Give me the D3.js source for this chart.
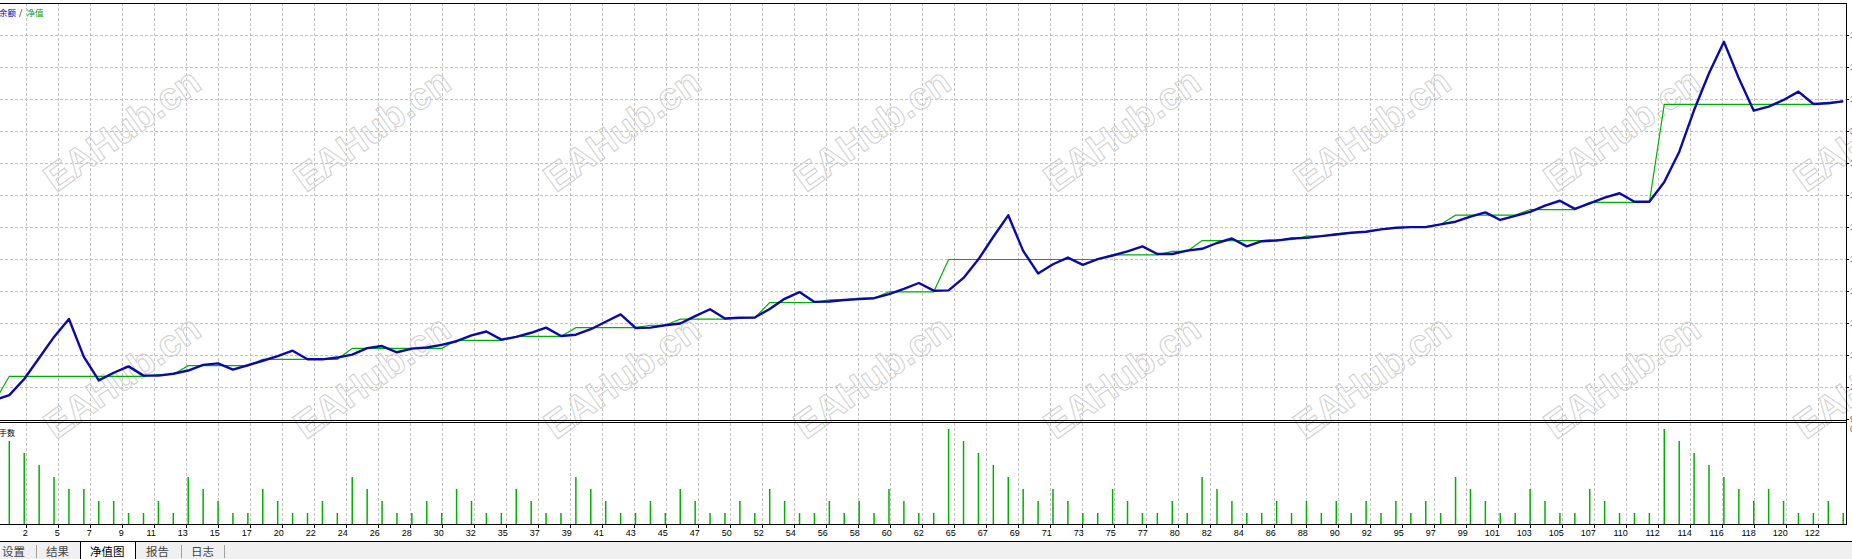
<!DOCTYPE html>
<html>
<head>
<meta charset="utf-8">
<script src="https://cdn.jsdelivr.net/npm/d3@7"></script>
<style>
  body { margin: 0; background: #fff; overflow: hidden; }
</style>
</head>
<body>
<svg id="chart"></svg>
<script>
/* data: point 0 = start, then one point per trade */
const balance = [
  9919, 9949, 10050, 10181, 10313, 10425, 10188, 10041, 10089, 10129,
  10071, 10071, 10083, 10103, 10138, 10148, 10109, 10136, 10164, 10193,
  10227, 10173, 10173, 10184, 10202, 10243, 10256, 10217, 10240, 10247,
  10263, 10286, 10323, 10347, 10296, 10313, 10339, 10371, 10319, 10327,
  10361, 10408, 10454, 10369, 10371, 10386, 10397, 10443, 10486, 10428,
  10433, 10434, 10488, 10551, 10593, 10532, 10534, 10544, 10549, 10555,
  10581, 10614, 10650, 10602, 10604, 10682, 10798, 10939, 11073, 10851,
  10710, 10767, 10809, 10763, 10799, 10822, 10848, 10879, 10831, 10831,
  10852, 10864, 10900, 10928, 10879, 10911, 10915, 10928, 10932, 10943,
  10953, 10964, 10970, 10985, 10995, 10999, 10999, 11016, 11033, 11065,
  11091, 11044, 11069, 11094, 11133, 11164, 11113, 11148, 11183, 11211,
  11158, 11158, 11281, 11469, 11731, 11961, 12158, 11929, 11727, 11752,
  11794, 11846, 11769, 11773, 11786
];

const equity = [
  9906, 10067, 10067, 10067, 10067, 10067, 10067, 10067, 10067, 10067,
  10067, 10078, 10078, 10133, 10133, 10133, 10133, 10133, 10173, 10173,
  10173, 10173, 10173, 10173, 10242, 10242, 10242, 10242, 10242, 10242,
  10242, 10292, 10292, 10292, 10292, 10316, 10316, 10316, 10316, 10371,
  10371, 10371, 10371, 10371, 10386, 10386, 10424, 10424, 10424, 10424,
  10434, 10434, 10528, 10528, 10528, 10528, 10544, 10544, 10555, 10555,
  10595, 10595, 10595, 10595, 10797, 10797, 10797, 10797, 10797, 10797,
  10797, 10797, 10797, 10797, 10797, 10826, 10826, 10826, 10826, 10848,
  10848, 10915, 10915, 10915, 10915, 10915, 10921, 10921, 10943, 10943,
  10959, 10964, 10972, 10985, 10994, 10999, 11003, 11016, 11074, 11074,
  11074, 11074, 11074, 11109, 11109, 11109, 11109, 11154, 11154, 11154,
  11154, 11154, 11767, 11767, 11767, 11767, 11767, 11767, 11767, 11767,
  11767, 11767, 11767, 11779, 11786
];

/* lot size of trade 1..124 */
const lots = [
  0.07, 0.06, 0.05, 0.04, 0.03, 0.03, 0.02, 0.02, 0.01, 0.01,
  0.02, 0.01, 0.04, 0.03, 0.02, 0.01, 0.01, 0.03, 0.02, 0.01,
  0.01, 0.02, 0.01, 0.04, 0.03, 0.02, 0.01, 0.01, 0.02, 0.01,
  0.03, 0.02, 0.01, 0.01, 0.03, 0.02, 0.01, 0.01, 0.04, 0.03,
  0.02, 0.01, 0.01, 0.02, 0.01, 0.03, 0.02, 0.01, 0.01, 0.02,
  0.01, 0.03, 0.02, 0.01, 0.01, 0.02, 0.01, 0.02, 0.01, 0.03,
  0.02, 0.01, 0.01, 0.08, 0.07, 0.06, 0.05, 0.04, 0.03, 0.02,
  0.03, 0.02, 0.01, 0.01, 0.03, 0.02, 0.01, 0.01, 0.02, 0.01,
  0.04, 0.03, 0.02, 0.01, 0.01, 0.02, 0.01, 0.02, 0.01, 0.02,
  0.01, 0.02, 0.01, 0.02, 0.01, 0.02, 0.01, 0.04, 0.03, 0.02,
  0.01, 0.01, 0.03, 0.02, 0.01, 0.01, 0.03, 0.02, 0.01, 0.01,
  0.01, 0.08, 0.07, 0.06, 0.05, 0.04, 0.03, 0.02, 0.03, 0.02,
  0.01, 0.01, 0.02, 0.01
];

const tickLabels = [2, 5, 7, 9, 11, 13, 15, 17, 20, 22, 24, 26, 28, 30, 32, 35, 37, 39,
  41, 43, 45, 47, 50, 52, 54, 56, 58, 60, 62, 65, 67, 69, 71, 73, 75, 77, 80, 82,
  84, 86, 88, 90, 92, 95, 97, 99, 101, 103, 105, 107, 110, 112, 114, 116, 118, 120, 122];
const yTicks = [9800, 10000, 10200, 10400, 10600, 10800, 11000, 11200, 11400, 11600, 11800, 12000, 12200];
const tabs = ['设置', '结果', '净值图', '报告', '日志'];

/* layout */
const W = 1852, H = 559;
const RIGHT = 1846;
const MAIN_TOP = 3, MAIN_BOTTOM = 420;
const SUB_TOP = 423, SUB_BOTTOM = 524;
const TAB_TOP = 541;

const svg = d3.select('#chart')
  .attr('width', W)
  .attr('height', H)
  .style('display', 'block')
  .style('font-family', '"Liberation Sans", Arial, sans-serif');

const x = d3.scaleLinear().domain([0, balance.length - 1]).range([-5.6, 1843.2]);
const xGrid = d3.scalePoint().domain(tickLabels).range([26.3, 26.3 + 32 * (tickLabels.length - 1)]);
const y = d3.scaleLinear().domain([9800, 12400]).range([419, 3]);
const ySub = d3.scaleLinear().domain([0, 0.08]).range([525, 429]);

/* grid */
const grid = svg.append('g')
  .attr('stroke', '#c4c4c4')
  .attr('stroke-dasharray', '3,2')
  .attr('shape-rendering', 'crispEdges');

grid.selectAll('.hg').data(yTicks.slice(1)).enter().append('line')
  .attr('x1', 0).attr('x2', RIGHT)
  .attr('y1', d => Math.round(y(d)) + 0.5)
  .attr('y2', d => Math.round(y(d)) + 0.5);

grid.selectAll('.vg').data(tickLabels).enter().append('line')
  .attr('x1', d => Math.round(xGrid(d)) + 0.5)
  .attr('x2', d => Math.round(xGrid(d)) + 0.5)
  .attr('y1', MAIN_TOP).attr('y2', MAIN_BOTTOM);

grid.selectAll('.vg2').data(tickLabels).enter().append('line')
  .attr('x1', d => Math.round(xGrid(d)) + 0.5)
  .attr('x2', d => Math.round(xGrid(d)) + 0.5)
  .attr('y1', SUB_TOP).attr('y2', SUB_BOTTOM);

/* watermark */
const marks = [];
[130, 377].forEach(cy => {
  for (let k = 0; k < 8; k++) marks.push({ cx: 122 + 250 * k, cy });
});
svg.append('g').selectAll('text').data(marks).enter().append('text')
  .attr('transform', d => `translate(${d.cx},${d.cy}) rotate(-35.5)`)
  .attr('text-anchor', 'middle')
  .attr('dominant-baseline', 'central')
  .attr('font-size', 38)
  .attr('font-weight', 'bold')
  .attr('fill', 'none')
  .attr('stroke', '#cfcfcf')
  .attr('stroke-width', 1)
  .text('EAHub.cn');

/* main panel lines */
svg.append('clipPath').attr('id', 'mainClip').append('rect')
  .attr('x', 0).attr('y', MAIN_TOP).attr('width', RIGHT).attr('height', MAIN_BOTTOM - MAIN_TOP);

const plot = svg.append('g').attr('clip-path', 'url(#mainClip)');
const line = d3.line().x((d, i) => x(i)).y(d => y(d));

plot.append('path').datum(equity)
  .attr('d', line)
  .attr('fill', 'none')
  .attr('stroke', '#00b000')
  .attr('stroke-width', 1.2);

plot.append('path').datum(balance)
  .attr('d', line)
  .attr('fill', 'none')
  .attr('stroke', '#0a0aa8')
  .attr('stroke-width', 2.4)
  .attr('stroke-linejoin', 'round');

/* lots bars */
svg.append('g').selectAll('line').data(lots).enter().append('line')
  .attr('x1', (d, i) => x(i + 1))
  .attr('x2', (d, i) => x(i + 1))
  .attr('y1', ySub(0))
  .attr('y2', d => ySub(d))
  .attr('stroke', '#00b000')
  .attr('stroke-width', 1.5);

/* frames */
const frame = svg.append('g').attr('stroke', '#000').attr('shape-rendering', 'crispEdges');
frame.append('line').attr('x1', 0).attr('x2', RIGHT + 0.5).attr('y1', MAIN_TOP + 0.5).attr('y2', MAIN_TOP + 0.5);
frame.append('line').attr('x1', 0).attr('x2', RIGHT + 0.5).attr('y1', MAIN_BOTTOM + 0.5).attr('y2', MAIN_BOTTOM + 0.5);
frame.append('line').attr('x1', 0).attr('x2', RIGHT + 0.5).attr('y1', SUB_TOP - 0.5).attr('y2', SUB_TOP - 0.5);
frame.append('line').attr('x1', 0).attr('x2', RIGHT + 0.5).attr('y1', SUB_BOTTOM + 0.5).attr('y2', SUB_BOTTOM + 0.5);
frame.append('line').attr('x1', RIGHT + 0.5).attr('x2', RIGHT + 0.5).attr('y1', MAIN_TOP).attr('y2', SUB_BOTTOM + 1);

/* x ticks and labels */
frame.selectAll('.xt').data(tickLabels).enter().append('line')
  .attr('x1', d => Math.round(xGrid(d)) + 0.5)
  .attr('x2', d => Math.round(xGrid(d)) + 0.5)
  .attr('y1', SUB_BOTTOM).attr('y2', SUB_BOTTOM + 4);

svg.append('g').selectAll('text').data(tickLabels).enter().append('text')
  .attr('x', d => xGrid(d) + 1.5)
  .attr('y', 535.5)
  .attr('text-anchor', 'end')
  .attr('font-size', 9)
  .attr('fill', '#000')
  .text(d => d);

/* right axis (mostly outside the window) */
frame.selectAll('.yt').data(yTicks).enter().append('line')
  .attr('x1', RIGHT).attr('x2', RIGHT + 3)
  .attr('y1', d => Math.round(y(d)) + 0.5)
  .attr('y2', d => Math.round(y(d)) + 0.5);

svg.append('g').selectAll('text').data(yTicks).enter().append('text')
  .attr('x', 1850)
  .attr('y', d => y(d) + 3)
  .attr('font-size', 9)
  .attr('fill', '#8a5a10')
  .text(d => d.toFixed(2));

svg.append('text')
  .attr('x', 1850).attr('y', ySub(0.08) + 3)
  .attr('font-size', 9).attr('fill', '#8a5a10')
  .text('0.08');

/* panel titles */
const legend = svg.append('text')
  .attr('y', 15.5)
  .attr('font-size', 8.5)
  .style('font-family', '"Noto Sans CJK SC", sans-serif');
legend.append('tspan').attr('x', -1).attr('fill', '#0000c0').text('余额');
legend.append('tspan').attr('x', 19).attr('fill', '#000').text('/');
legend.append('tspan').attr('x', 26.5).attr('fill', '#00a000').text('净值');

svg.append('text')
  .attr('x', -1).attr('y', 436)
  .attr('font-size', 8)
  .attr('fill', '#000')
  .style('font-family', '"Noto Sans CJK SC", sans-serif')
  .text('手数');

/* tab strip */
const tabBar = svg.append('g');
tabBar.append('rect').attr('x', 0).attr('y', TAB_TOP).attr('width', W).attr('height', H - TAB_TOP).attr('fill', '#f0f0f0');
tabBar.append('rect').attr('x', 80.5).attr('y', TAB_TOP).attr('width', 55).attr('height', H - TAB_TOP).attr('fill', '#fff');
tabBar.append('line').attr('x1', 0).attr('x2', W).attr('y1', TAB_TOP + 0.5).attr('y2', TAB_TOP + 0.5)
  .attr('stroke', '#000').attr('shape-rendering', 'crispEdges');
[80.5, 135.5].forEach(bx => {
  tabBar.append('line').attr('x1', bx).attr('x2', bx).attr('y1', TAB_TOP).attr('y2', H)
    .attr('stroke', '#000').attr('shape-rendering', 'crispEdges');
});
[36.5, 181.5, 224.5].forEach(sx => {
  tabBar.append('line').attr('x1', sx).attr('x2', sx).attr('y1', 545).attr('y2', 558)
    .attr('stroke', '#a0a0a0').attr('shape-rendering', 'crispEdges');
});
const tabX = [2, 46, 90, 146, 191];
tabBar.selectAll('.tab').data(tabs).enter().append('text')
  .attr('x', (d, i) => tabX[i])
  .attr('y', 556)
  .attr('font-size', 11.5)
  .attr('fill', (d, i) => i === 2 ? '#000' : '#444')
  .style('font-family', '"Noto Sans CJK SC", sans-serif')
  .text(d => d);
</script>
</body>
</html>
